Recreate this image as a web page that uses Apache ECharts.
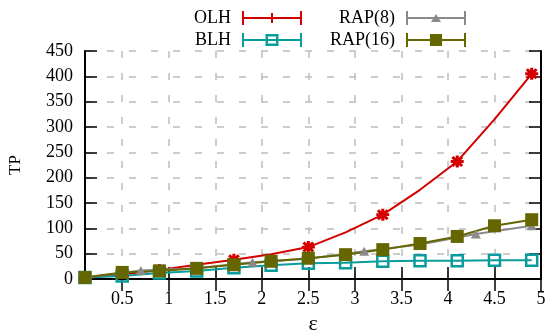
<!DOCTYPE html>
<html>
<head>
<meta charset="utf-8">
<script src="https://cdn.jsdelivr.net/npm/echarts@6/dist/echarts.min.js"></script>
<style>
  html, body { margin: 0; padding: 0; background: #fff; }
  #chart { width: 549px; height: 332px; }
</style>
</head>
<body>
<div id="chart"></div>
<script>
// epsilon values shared by OLH, BLH and RAP(16)
const eps = [0.1, 0.5, 0.9, 1.3, 1.7, 2.1, 2.5, 2.9, 3.3, 3.7, 4.1, 4.5, 4.9];
const olh = [2, 9, 18, 28, 38, 49, 63, 92, 127, 176, 232, 315, 405];
const blh = [3, 6, 12, 16, 22, 27, 31, 32, 35, 36, 36, 37, 37];
const rap16 = [3, 13, 16, 21, 28, 35, 41, 48, 58, 70, 84, 105, 117];
// RAP(8) is sampled on its own epsilon grid
const epsRap8 = [0.1, 0.7, 1.3, 1.9, 2.5, 3.1, 3.7, 4.3, 4.9];
const rap8 = [3, 17, 21, 33, 40, 55, 68, 89, 105];
// axis ticks
const xTicks = [0.5, 1, 1.5, 2, 2.5, 3, 3.5, 4, 4.5, 5];

const C_OLH = '#d40000', C_BLH = '#0a9c9c', C_R8 = '#8a8a8a', C_R16 = '#666600';
const FONT = "'Liberation Serif', 'Times New Roman', serif";

const zip = (xs, ys) => xs.map((x, i) => [x, ys[i]]);

// legend icons: a 60x14 error-bar style sample with the marker in the middle
const R = (x0, y0, x1, y1) => `M${x0},${y0}L${x1},${y0}L${x1},${y1}L${x0},${y1}Z`;        // clockwise
const RH = (x0, y0, x1, y1) => `M${x0},${y0}L${x0},${y1}L${x1},${y1}L${x1},${y0}Z`;       // hole
const base = R(0, 6, 60, 8) + R(0, 0, 2, 14) + R(58, 0, 60, 14);
const iconOLH = 'path://' + base + R(29, 2, 31, 12);
const iconBLH = 'path://' + base + R(23.5, 1, 36.5, 13) + RH(26, 3.5, 34, 10.5);
const iconR8 = 'path://' + base + 'M25,11L30,3L35,11Z';
const iconR16 = 'path://' + base + R(24, 1, 36, 13);

function legendItem(name, icon, color, right, top) {
  return {
    data: [{ name: name, icon: icon }],
    right: right, top: top, padding: 0,
    align: 'right', orient: 'vertical',
    itemWidth: 60, itemHeight: 14,
    selectedMode: false,
    itemStyle: { color: color, borderWidth: 0 },
    lineStyle: { width: 0 },
    textStyle: { fontFamily: FONT, fontSize: 18, color: '#000', lineHeight: 16, padding: [0, 6, 0, 0] }
  };
}

const star = 'path://M0,6L12,6M6,0L6,12M1.5,1.5L10.5,10.5M1.5,10.5L10.5,1.5';

const chart = echarts.init(document.getElementById('chart'), null, { renderer: 'canvas' });
chart.setOption({
  animation: false,
  backgroundColor: '#fff',
  grid: { left: 85, right: 8, top: 51, bottom: 53, containLabel: false, outerBoundsMode: 'none' },
  legend: [
    legendItem('OLH', iconOLH, C_OLH, 247, 9),
    legendItem('BLH', iconBLH, C_BLH, 247, 31),
    legendItem('RAP(8)', iconR8, C_R8, 83, 9),
    legendItem('RAP(16)', iconR16, C_R16, 83, 31)
  ],
  xAxis: [{
    type: 'value', min: 0.1, max: 5, position: 'bottom',
    name: 'ε', nameLocation: 'middle', nameGap: 33,
    nameTextStyle: { fontFamily: FONT, fontSize: 22, color: '#000' },
    axisLine: { lineStyle: { color: '#000', width: 2 } },
    axisTick: { inside: true, length: 12, customValues: xTicks, lineStyle: { color: '#000', width: 1.5 } },
    axisLabel: { customValues: xTicks, margin: 11, fontFamily: FONT, fontSize: 18, color: '#000' },
    splitLine: { show: true, lineStyle: { color: '#bdbdbd', width: 1.5, type: [7, 15] } }
  }, {
    type: 'value', min: 0.1, max: 5, position: 'top',
    axisLine: { lineStyle: { color: '#000', width: 2 } },
    axisTick: { inside: true, length: 12, customValues: xTicks, lineStyle: { color: '#000', width: 1.5 } },
    axisLabel: { show: false },
    splitLine: { show: false }
  }],
  yAxis: [{
    type: 'value', min: 0, max: 450, interval: 50, position: 'left',
    name: 'TP', nameLocation: 'middle', nameGap: 61,
    nameTextStyle: { fontFamily: FONT, fontSize: 17, color: '#000' },
    axisLine: { show: true, lineStyle: { color: '#000', width: 2 } },
    axisTick: { show: true, inside: true, length: 12, lineStyle: { color: '#000', width: 1.5 } },
    axisLabel: { margin: 12, fontFamily: FONT, fontSize: 18, color: '#000' },
    splitLine: { show: true, lineStyle: { color: '#bdbdbd', width: 1.5, type: [7, 15] } }
  }, {
    type: 'value', min: 0, max: 450, interval: 50, position: 'right',
    axisLine: { show: true, lineStyle: { color: '#000', width: 2 } },
    axisTick: { show: true, inside: true, length: 12, lineStyle: { color: '#000', width: 1.5 } },
    axisLabel: { show: false },
    splitLine: { show: false }
  }],
  series: [{
    name: 'OLH', type: 'line',
    data: zip(eps, olh).map((p, i) => i % 2 === 0 ? { value: p } : { value: p, symbol: 'none' }),
    symbol: star, symbolSize: [13, 12],
    itemStyle: { color: C_OLH, borderColor: C_OLH, borderWidth: 3 },
    lineStyle: { color: C_OLH, width: 2 }
  }, {
    name: 'BLH', type: 'line',
    data: zip(eps, blh),
    symbol: 'path://M0,0L10,0L10,10L0,10Z', symbolSize: 11,
    itemStyle: { color: 'rgba(0,0,0,0)', borderColor: C_BLH, borderWidth: 2.5 },
    lineStyle: { color: C_BLH, width: 2 }
  }, {
    name: 'RAP(8)', type: 'line',
    data: zip(epsRap8, rap8),
    symbol: 'triangle', symbolSize: [10, 9],
    itemStyle: { color: C_R8 },
    lineStyle: { color: C_R8, width: 2 }
  }, {
    name: 'RAP(16)', type: 'line',
    data: zip(eps, rap16),
    symbol: 'rect', symbolSize: 13,
    itemStyle: { color: C_R16 },
    lineStyle: { color: C_R16, width: 2 }
  }]
});
</script>
</body>
</html>
